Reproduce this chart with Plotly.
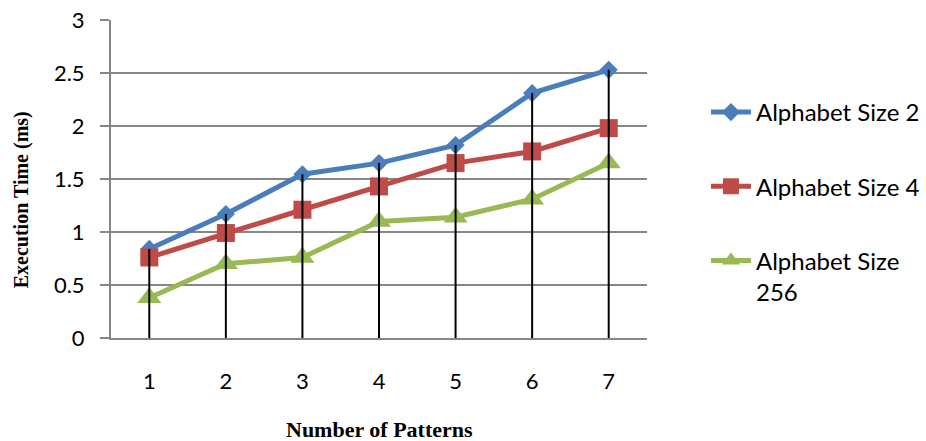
import plotly.graph_objects as go

categories = [1, 2, 3, 4, 5, 6, 7]
size2 = [0.84, 1.17, 1.545, 1.65, 1.82, 2.31, 2.53]
size4 = [0.76, 0.99, 1.21, 1.43, 1.65, 1.76, 1.98]
size256 = [0.38, 0.70, 0.76, 1.10, 1.14, 1.31, 1.65]
names = ["Alphabet Size 2", "Alphabet Size 4", "Alphabet Size<br>256"]
y_ticks = [0, 0.5, 1, 1.5, 2, 2.5, 3]

fig = go.Figure()
series = [
    (size2, names[0], "#4A7EBB", "diamond", 14),
    (size4, names[1], "#BE4B48", "square", 18),
    (size256, names[2], "#98B954", "triangle-up", 21),
]
for i, (vals, name, color, sym, ms) in enumerate(series):
    fig.add_trace(go.Scatter(
        x=categories, y=vals, name=name, mode="lines+markers",
        line=dict(color=color, width=5),
        marker=dict(symbol=sym, size=ms, color=color),
        legendgroup=f"g{i}",
    ))

# drop lines from highest value to axis
dx, dy = [], []
for c, a, b, d in zip(categories, size2, size4, size256):
    dx += [c, c, None]
    dy += [0, max(a, b, d), None]
fig.add_trace(go.Scatter(x=dx, y=dy, mode="lines", line=dict(color="black", width=2),
                         showlegend=False, hoverinfo="skip"))

fig.update_layout(
    width=926, height=441,
    margin=dict(l=111, r=279, t=20, b=103, autoexpand=False),
    paper_bgcolor="white", plot_bgcolor="white",
    font=dict(family="Lato", color="black", size=22),
    legend=dict(x=1.11, y=0.78, xanchor="left", yanchor="top", xref="paper",
                tracegroupgap=40, valign="top", font=dict(size=24, family="Lato"),
                itemwidth=40, bgcolor="rgba(0,0,0,0)"),
    annotations=[
        dict(text="<b>Number of Patterns</b>", xref="paper", yref="paper",
             x=0.5, y=-91 / 317.5, xanchor="center", yanchor="middle", showarrow=False,
             font=dict(family="Liberation Serif", size=22)),
        dict(text="<b>Execution Time (ms)</b>", xref="paper", yref="paper",
             x=-90 / 536, y=(337.5 - 200) / 317.5, xanchor="center", yanchor="middle",
             textangle=-90, showarrow=False,
             font=dict(family="Liberation Serif", size=20)),
    ],
)
fig.update_xaxes(
    range=[0.5, 7.5], tickvals=categories, ticktext=[str(c) for c in categories],
    showline=True, linecolor="#868686", linewidth=2, showgrid=False, zeroline=False,
    ticks="", ticklabelstandoff=23, automargin=False,
    tickfont=dict(size=22),
)
fig.update_yaxes(
    range=[0, 3], tickvals=y_ticks, ticktext=[f"{v:g}" for v in y_ticks],
    showline=True, linecolor="#868686", linewidth=2, automargin=False,
    showgrid=True, gridcolor="#868686", gridwidth=1.5, zeroline=False,
    ticks="outside", ticklen=9, tickcolor="#868686", tickwidth=2, ticklabelstandoff=11,
    tickfont=dict(size=22),
)
fig.write_html("out.html", config={"displayModeBar": False},
               post_script="document.body.style.margin='0px';")
